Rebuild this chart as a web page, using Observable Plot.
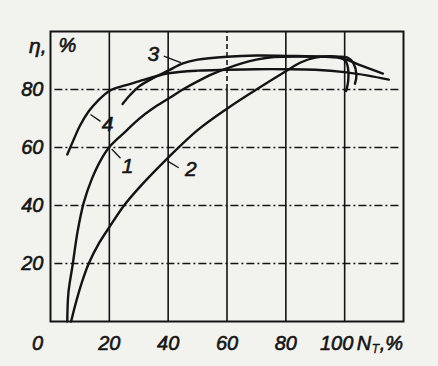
<!DOCTYPE html>
<html><head><meta charset="utf-8">
<script src="https://cdn.jsdelivr.net/npm/d3@7"></script>
<script src="https://cdn.jsdelivr.net/npm/@observablehq/plot@0.6"></script>
<style>
html,body{margin:0;padding:0;background:#f2f2ef;}
#chart svg{display:block;}
</style></head><body><div id="chart"></div>
<script>
// tick labels
const xTicks = [20, 40, 60, 80, 100];
const yTicks = [20, 40, 60, 80];

// curve 1
const curve1X = [5.7, 6.1, 7.6, 9.2, 11.3, 14, 17, 20.3, 26, 30, 35, 40, 45, 50, 55, 60, 65, 70, 76, 85, 95, 101, 103, 104, 103.5];
const curve1Y = [0, 10, 20, 31, 41, 49, 55.5, 60.5, 66, 69.8, 73.6, 76.8, 80, 82.8, 85.3, 87.3, 89, 90.3, 91.2, 91.4, 91.2, 91, 89, 85, 82];
// curve 2
const curve2X = [7, 8.5, 10.5, 13, 16.5, 20, 25, 30, 40, 50, 60, 70, 80, 85, 90, 95, 100, 105, 113];
const curve2Y = [0, 6, 13, 20, 27, 32.5, 40, 46, 56.5, 66, 73.4, 80, 86.3, 89.3, 91, 91.3, 90.5, 88.5, 85.5];
// curve 3
const curve3X = [24.5, 27, 30, 35, 40, 45, 50, 60, 70, 80, 90, 98, 100.3, 101.2, 101.2, 100.5];
const curve3Y = [75, 78, 81, 84, 86.5, 89, 90.3, 91.3, 91.7, 91.6, 91.4, 91.2, 89.8, 87, 83, 79.5];
// curve 4
const curve4X = [5.7, 8, 10, 13, 16, 20, 25, 30, 35, 40, 50, 60, 70, 80, 90, 100, 108, 115];
const curve4Y = [57.6, 63, 67.5, 72.5, 76, 79.5, 81.3, 82.8, 84.3, 85.6, 86.5, 86.8, 87, 87, 86.8, 86, 84.8, 83.4];

// curve labels and their leader lines
const curveNames = ["1", "2", "3", "4"];
const labelX = [26.2, 47.7, 35, 19.4];
const labelY = [53.6, 52.5, 92, 68];
const leadX1 = [20.8, 39.8, 38.5, 13.6];
const leadY1 = [59.5, 55.3, 91.5, 71.4];
const leadX2 = [23.8, 43.6, 44.3, 17];
const leadY2 = [56.3, 53, 89.3, 69];

const curves = [[curve1X, curve1Y], [curve2X, curve2Y], [curve3X, curve3Y], [curve4X, curve4Y]];
const rows = curves.flatMap(([xs, ys], i) => xs.map((x, j) => ({curve: curveNames[i], x, y: ys[j]})));
const labels = curveNames.map((n, i) => ({n, x: labelX[i], y: labelY[i]}));
const leaders = curveNames.map((n, i) => ({x1: leadX1[i], y1: leadY1[i], x2: leadX2[i], y2: leadY2[i]}));

const ink = "#141414";
const font = {fontFamily: "'Liberation Sans', Arial, sans-serif", fontStyle: "italic", fontSize: 20, fill: ink, stroke: ink, strokeWidth: 0.6};

const plot = Plot.plot({
  width: 438,
  height: 366,
  marginLeft: 50,
  marginRight: 35,
  marginTop: 31,
  marginBottom: 45,
  style: {background: "#f2f2ef", overflow: "visible"},
  x: {domain: [0, 120], axis: null},
  y: {domain: [0, 100], axis: null},
  marks: [
    Plot.ruleY(yTicks, {x1: 1.5, x2: 118.5, stroke: ink, strokeWidth: 1.3, strokeDasharray: "8,3,2,3"}),
    Plot.ruleX(xTicks.filter(d => d !== 60), {stroke: ink, strokeWidth: 1.6}),
    Plot.ruleX([60], {y1: 0, y2: 80, stroke: ink, strokeWidth: 1.6}),
    Plot.ruleX([60], {y1: 80, y2: 100, stroke: ink, strokeWidth: 1.6, strokeDasharray: "5,3"}),
    Plot.frame({stroke: ink, strokeWidth: 2}),
    Plot.line(rows, {x: "x", y: "y", z: "curve", curve: "catmull-rom", stroke: ink, strokeWidth: 2.4}),
    Plot.link(leaders, {x1: "x1", y1: "y1", x2: "x2", y2: "y2", stroke: ink, strokeWidth: 1.3}),
    Plot.text(labels, {x: "x", y: "y", text: "n", ...font, fontSize: 21}),
    Plot.text(xTicks.filter(d => d !== 100), {x: d => d, y: 0, dy: 22, text: d => String(d), ...font}),
    Plot.text([100], {x: d => d, y: 0, dx: -8, dy: 22, text: d => String(d), ...font}),
    Plot.text(["0"], {x: 0, y: 0, dx: -13, dy: 22, text: d => d, ...font}),
    Plot.text(yTicks, {x: 0, y: d => d, dx: -7, textAnchor: "end", text: d => String(d), ...font}),
    Plot.text(["η,"], {x: 0, y: 95, dx: -4, textAnchor: "end", text: d => d, ...font, fontSize: 21}),
    Plot.text(["%"], {x: 0, y: 95, dx: 8, textAnchor: "start", text: d => d, ...font}),
    Plot.text(["N"], {x: 100, y: 0, dx: 12, dy: 22, textAnchor: "start", text: d => d, ...font}),
    Plot.text(["Т"], {x: 100, y: 0, dx: 27, dy: 28, textAnchor: "start", text: d => d, ...font, fontSize: 12, strokeWidth: 0.3}),
    Plot.text([",%"], {x: 100, y: 0, dx: 35, dy: 22, textAnchor: "start", text: d => d, ...font})
  ]
});
document.getElementById("chart").appendChild(plot);
</script>
</body></html>
